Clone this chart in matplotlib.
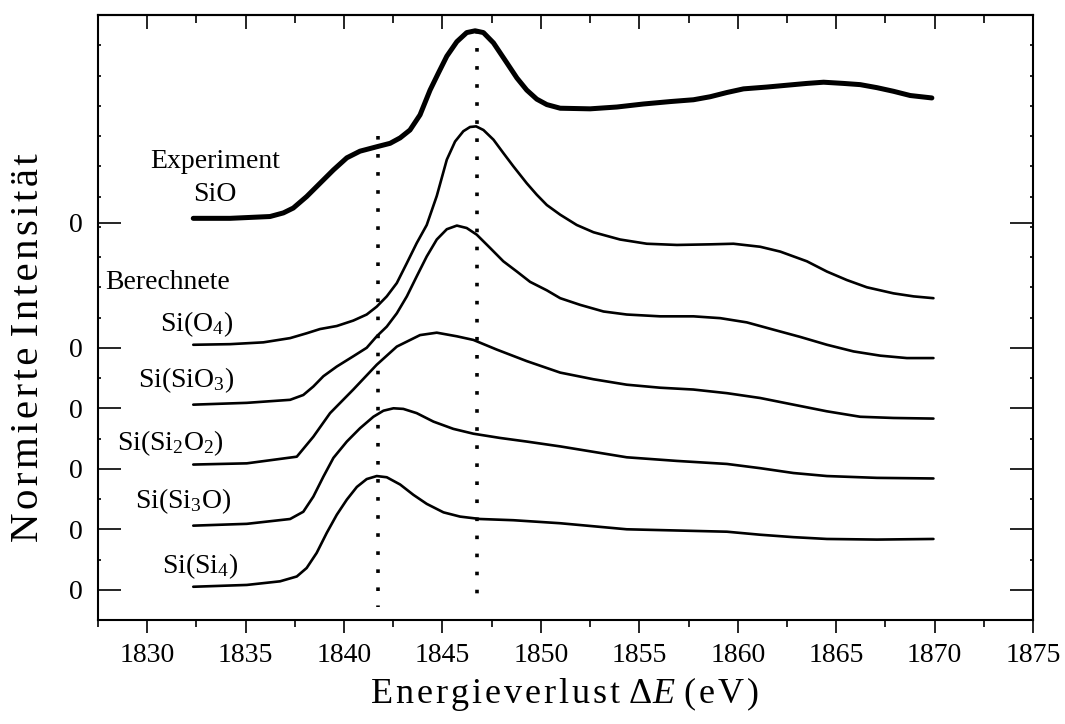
import matplotlib
matplotlib.use("Agg")
import matplotlib.pyplot as plt
from matplotlib.ticker import FixedLocator, MultipleLocator, NullFormatter

plt.rcParams['font.family'] = ['Liberation Serif', 'DejaVu Serif']
plt.rcParams['mathtext.fontset'] = 'custom'
plt.rcParams['mathtext.rm'] = 'Liberation Serif'
plt.rcParams['mathtext.it'] = 'Liberation Serif:italic'

# Experiment SiO (dicke Linie), Energie in eV, Intensitaet ueber eigener Null
exp_E = [1832.34, 1834.21, 1836.24, 1836.92, 1837.42, 1838.10, 1838.78, 1839.46, 1840.14,
         1840.81, 1841.74, 1842.34, 1842.85, 1843.35, 1843.86, 1844.37, 1844.79, 1845.22,
         1845.73, 1846.23, 1846.66, 1847.08, 1847.59, 1848.27, 1848.78, 1849.28, 1849.79,
         1850.30, 1850.98, 1852.50, 1853.86, 1855.21, 1856.57, 1857.75, 1858.60, 1859.45,
         1860.29, 1861.48, 1862.49, 1863.51, 1864.36, 1865.37, 1866.22, 1867.07, 1867.91,
         1868.76, 1869.86]
exp_I = [0.07, 0.07, 0.10, 0.16, 0.24, 0.43, 0.65, 0.87, 1.07,
         1.18, 1.26, 1.31, 1.40, 1.53, 1.78, 2.19, 2.47, 2.75,
         2.99, 3.14, 3.17, 3.14, 2.97, 2.64, 2.39, 2.19, 2.04,
         1.95, 1.89, 1.88, 1.91, 1.96, 2.00, 2.03, 2.08, 2.15,
         2.21, 2.24, 2.27, 2.30, 2.32, 2.30, 2.28, 2.23, 2.17,
         2.10, 2.06]

# berechnete Spektren
o4_E = [1832.34, 1834.21, 1835.90, 1837.26, 1838.10, 1838.78, 1839.63, 1840.47, 1841.15,
        1841.66, 1842.17, 1842.68, 1843.19, 1843.69, 1844.20, 1844.71, 1845.22, 1845.64,
        1846.06, 1846.40, 1846.71, 1847.08, 1847.59, 1848.09, 1848.60, 1849.28, 1849.79,
        1850.30, 1850.98, 1851.82, 1852.67, 1854.02, 1855.38, 1856.91, 1858.60, 1859.78,
        1861.14, 1862.16, 1863.51, 1864.53, 1865.54, 1866.56, 1867.91, 1868.93, 1869.94]
o4_I = [0.05, 0.06, 0.09, 0.16, 0.24, 0.31, 0.36, 0.45, 0.55,
        0.68, 0.85, 1.07, 1.40, 1.73, 2.03, 2.51, 3.11, 3.41,
        3.58, 3.65, 3.66, 3.60, 3.44, 3.22, 3.00, 2.72, 2.53,
        2.36, 2.20, 2.03, 1.91, 1.79, 1.72, 1.70, 1.71, 1.72,
        1.67, 1.59, 1.43, 1.26, 1.12, 1.00, 0.90, 0.85, 0.82]

sio3_E = [1832.34, 1835.06, 1837.26, 1837.93, 1838.44, 1838.95, 1839.63, 1840.47, 1841.15,
          1841.66, 1842.17, 1842.68, 1843.19, 1843.69, 1844.20, 1844.71, 1845.22, 1845.73,
          1846.23, 1846.74, 1847.42, 1848.09, 1848.78, 1849.45, 1850.30, 1850.98, 1851.99,
          1853.18, 1854.36, 1856.06, 1857.75, 1859.11, 1860.46, 1861.81, 1863.17, 1864.53,
          1865.88, 1867.24, 1868.59, 1869.94]
sio3_I = [0.06, 0.09, 0.14, 0.22, 0.36, 0.53, 0.69, 0.86, 1.00,
          1.19, 1.35, 1.57, 1.85, 2.18, 2.51, 2.79, 2.96, 3.02,
          2.98, 2.87, 2.65, 2.43, 2.26, 2.09, 1.95, 1.82, 1.71,
          1.60, 1.55, 1.52, 1.52, 1.49, 1.42, 1.30, 1.18, 1.05,
          0.94, 0.87, 0.83, 0.83]

si2o2_E = [1832.34, 1835.06, 1837.60, 1838.44, 1839.29, 1840.47, 1841.66, 1842.68, 1843.86,
           1844.71, 1845.73, 1846.57, 1847.76, 1849.28, 1850.98, 1852.67, 1854.36, 1856.06,
           1857.75, 1859.45, 1861.14, 1862.83, 1864.53, 1866.22, 1867.91, 1869.94]
si2o2_I = [0.07, 0.09, 0.20, 0.53, 0.92, 1.31, 1.72, 2.02, 2.21,
           2.25, 2.19, 2.13, 1.97, 1.78, 1.59, 1.48, 1.39, 1.34,
           1.31, 1.25, 1.17, 1.06, 0.95, 0.86, 0.84, 0.83]

si3o_E = [1832.34, 1835.06, 1837.26, 1837.93, 1838.44, 1838.95, 1839.46, 1840.14, 1840.81,
          1841.49, 1842.00, 1842.51, 1843.01, 1843.69, 1844.54, 1845.55, 1846.57, 1847.92,
          1849.28, 1850.98, 1852.67, 1854.36, 1856.91, 1859.45, 1861.14, 1862.83, 1864.53,
          1867.07, 1869.94]
si3o_I = [0.06, 0.09, 0.17, 0.29, 0.54, 0.87, 1.18, 1.45, 1.67,
          1.86, 1.96, 2.00, 1.99, 1.92, 1.78, 1.66, 1.58, 1.51,
          1.45, 1.37, 1.28, 1.19, 1.13, 1.08, 1.01, 0.93, 0.88,
          0.85, 0.84]

si4_E = [1832.34, 1835.06, 1836.75, 1837.60, 1838.10, 1838.61, 1839.12, 1839.63, 1840.14,
         1840.65, 1841.15, 1841.66, 1842.17, 1842.85, 1843.52, 1844.20, 1845.05, 1845.89,
         1846.91, 1848.60, 1850.98, 1852.67, 1854.36, 1856.91, 1859.45, 1861.14, 1862.83,
         1864.53, 1867.07, 1869.94]
si4_I = [0.05, 0.08, 0.14, 0.22, 0.36, 0.61, 0.94, 1.24, 1.49,
         1.70, 1.83, 1.88, 1.86, 1.74, 1.57, 1.42, 1.28, 1.21,
         1.17, 1.15, 1.10, 1.05, 1.00, 0.98, 0.96, 0.91, 0.87,
         0.84, 0.83, 0.84]

calc_E = [si4_E, si3o_E, si2o2_E, sio3_E, o4_E]
calc_I = [si4_I, si3o_I, si2o2_I, sio3_I, o4_I]
calc_offsets = [0, 1, 2, 3, 4]
exp_offset = 6.07

calc_names = [r"Si(Si$_4$)", r"Si(Si$_3$O)", r"Si(Si$_2$O$_2$)", r"Si(SiO$_3$)", r"Si(O$_4$)"]
name_x = [1832.7, 1831.8, 1831.2, 1832.0, 1832.5]
name_y = [0.28, 1.35, 2.31, 3.35, 4.27]

dot_E = [1841.73, 1846.73]
dot_top = [7.5, 9.26]
dot_bottom = -0.28


def spaced(s):
    # etwas Sperrung wie im Original
    return "\u200a".join(s)


fig = plt.figure(figsize=(10.65, 7.24), dpi=100)
ax = fig.add_axes([0.092, 0.1436, 0.878, 0.8356])

for xe, yt in zip(dot_E, dot_top):
    ax.plot([xe, xe], [yt, dot_bottom], color='black', lw=2.6,
            linestyle=(0, (1.0, 4.0)), dash_capstyle='butt')

ax.plot(exp_E, [v + exp_offset for v in exp_I], color='black', lw=3.6,
        solid_capstyle='round', solid_joinstyle='round')
for xs, ys, off in zip(calc_E, calc_I, calc_offsets):
    ax.plot(xs, [v + off for v in ys], color='black', lw=1.9,
            solid_capstyle='round', solid_joinstyle='round')

ax.set_xlim(1827.5, 1875)
ax.set_ylim(-0.5, 9.5)

# x-Achse: unten nach aussen, oben nach innen
ax.xaxis.set_major_locator(MultipleLocator(5))
ax.xaxis.set_minor_locator(MultipleLocator(2.5))
ax.tick_params(axis='x', which='major', direction='out', length=9.5, width=1.2,
               labelsize=20, pad=7)
ax.tick_params(axis='x', which='minor', direction='out', length=5, width=1.2)
top = ax.secondary_xaxis('top')
top.xaxis.set_major_locator(MultipleLocator(5))
top.xaxis.set_minor_locator(MultipleLocator(2.5))
top.tick_params(axis='x', which='major', direction='in', length=10, width=1.2,
                labeltop=False)
top.tick_params(axis='x', which='minor', direction='in', length=6, width=1.2)
top.spines['top'].set_linewidth(1.5)

# y-Achse
ax.yaxis.set_major_locator(FixedLocator(calc_offsets + [exp_offset]))
ax.set_yticklabels(['0'] * 6)
ax.yaxis.set_minor_locator(MultipleLocator(0.5))
ax.yaxis.set_minor_formatter(NullFormatter())
ax.tick_params(axis='y', which='major', direction='in', length=16.5, width=1.2,
               labelsize=20, pad=11, right=True)
ax.tick_params(axis='y', which='minor', direction='in', length=2.5, width=1.2, right=True)

for sp in ax.spines.values():
    sp.set_linewidth(1.5)

ax.text(1833.45, 6.97, "Experiment", fontsize=20, ha='center', va='baseline')
ax.text(1833.45, 6.42, "SiO", fontsize=20, ha='center', va='baseline')
ax.text(1827.85, 4.97, "Berechnete", fontsize=20, ha='left', va='baseline')
for nm, nx, ny in zip(calc_names, name_x, name_y):
    ax.text(nx, ny, nm, fontsize=20, ha='center', va='baseline')

fig.text(0.530, 0.015, spaced("Energieverlust") + " " + r"$\Delta E$" + " " + spaced("(eV)"),
         fontsize=26, ha='center', va='bottom')
fig.text(0.027, 0.52, spaced("Normierte") + " " + spaced("Intensität"),
         fontsize=29.5, rotation=90, ha='center', va='center')

fig.savefig("out.png", dpi=100)
